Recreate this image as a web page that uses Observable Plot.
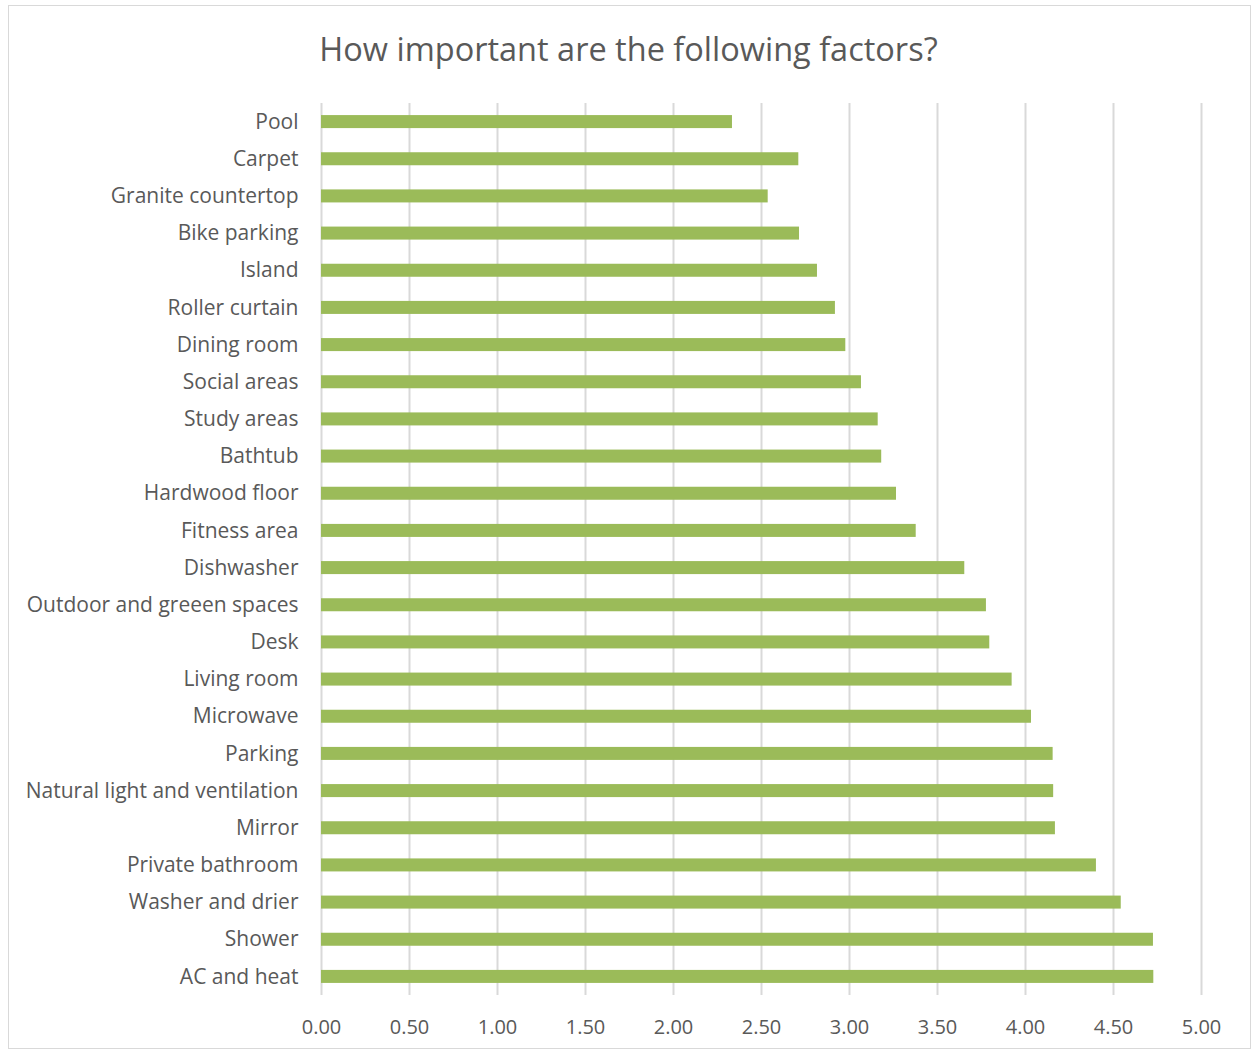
<!DOCTYPE html>
<html>
<head>
<meta charset="utf-8">
<script src="https://cdn.jsdelivr.net/npm/d3@7"></script>
<script src="https://cdn.jsdelivr.net/npm/@observablehq/plot@0.6"></script>
<style>
  html, body { margin: 0; padding: 0; background: #fff; }
  #wrap { position: relative; width: 1257px; height: 1053px; overflow: hidden; background: #fff; }
  #frame { position: absolute; left: 8px; top: 5px; width: 1243px; height: 1044px; border: 1px solid #d9d9d9; box-sizing: border-box; }
  #title { position: absolute; left: 0; top: 28px; width: 1257px; text-align: center; font-family: "Open Sans", sans-serif; font-size: 32.5px; color: #595959; line-height: 42px; }
  #chart { position: absolute; left: 0; top: 0; }
</style>
</head>
<body>
<div id="wrap">
  <div id="frame"></div>
  <div id="title">How important are the following factors?</div>
  <div id="chart"></div>
</div>
<script>
const factors = [
  "Pool", "Carpet", "Granite countertop", "Bike parking", "Island", "Roller curtain",
  "Dining room", "Social areas", "Study areas", "Bathtub", "Hardwood floor", "Fitness area",
  "Dishwasher", "Outdoor and greeen spaces", "Desk", "Living room", "Microwave", "Parking",
  "Natural light and ventilation", "Mirror", "Private bathroom", "Washer and drier", "Shower", "AC and heat"
];
const scores = [
  2.335, 2.712, 2.538, 2.716, 2.818, 2.920,
  2.979, 3.068, 3.163, 3.183, 3.267, 3.379,
  3.655, 3.778, 3.797, 3.924, 4.034, 4.157,
  4.160, 4.170, 4.403, 4.544, 4.727, 4.729
];
const xTicks = [0, 0.5, 1, 1.5, 2, 2.5, 3, 3.5, 4, 4.5, 5];

const data = factors.map((f, i) => ({factor: f, score: scores[i]}));

const chart = Plot.plot({
  width: 1257,
  height: 1053,
  marginLeft: 321,
  marginRight: 56,
  marginTop: 103,
  marginBottom: 58,
  style: {fontFamily: "'Open Sans', sans-serif", color: "#595959", background: "transparent"},
  x: {domain: [0, 5]},
  y: {domain: factors, paddingInner: 0.65, paddingOuter: 0.325, round: false},
  marks: [
    Plot.ruleX(xTicks, {stroke: "#d9d9d9", strokeWidth: 2}),
    Plot.barX(data, {y: "factor", x: "score", fill: "#9bbb59"}),
    Plot.axisX({ticks: xTicks, tickSize: 0, tickPadding: 24, tickFormat: d3.format(".2f"), fontSize: 20, fill: "#595959", label: null}),
    Plot.axisY({tickSize: 0, tickPadding: 23, fontSize: 21, fill: "#595959", label: null})
  ]
});
document.getElementById("chart").appendChild(chart);
</script>
</body>
</html>
